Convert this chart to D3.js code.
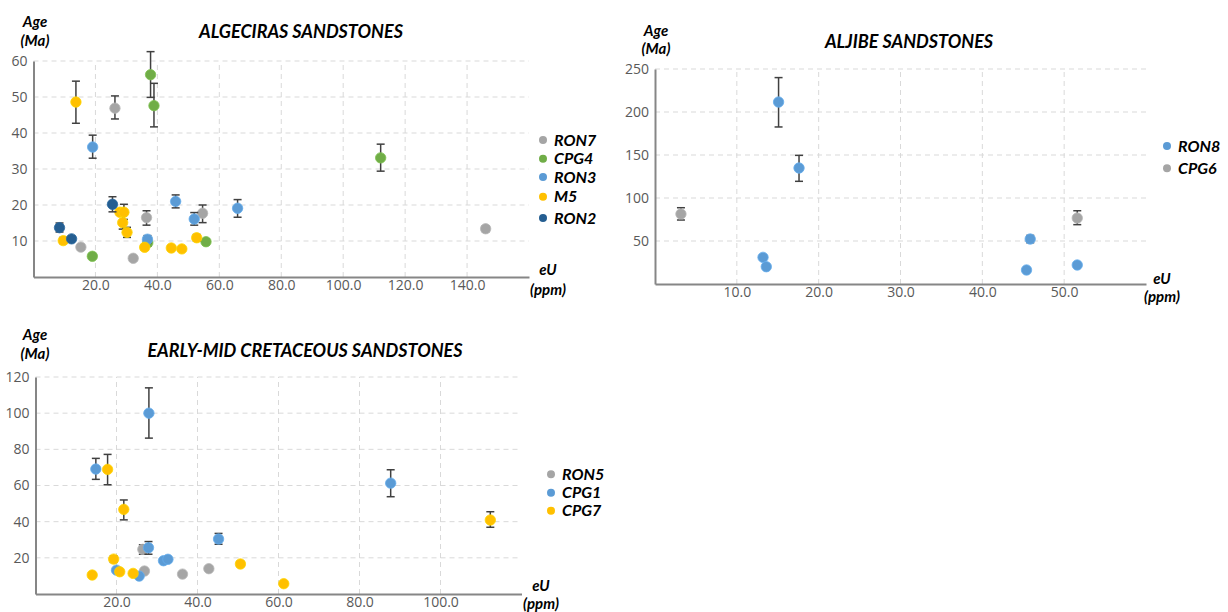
<!DOCTYPE html>
<html><head><meta charset="utf-8">
<script src="https://cdn.jsdelivr.net/npm/d3@7"></script>
<style>
html,body{margin:0;padding:0;background:#fff;}
svg text{font-family:"Open Sans",sans-serif;}
.lbl{font-family:Lato,"Open Sans",sans-serif;font-weight:700;font-style:italic;fill:#000;}
</style></head>
<body><svg id="c" width="1228" height="612"></svg>
<script>
// ---------- DATA : [eU (ppm), age (Ma), error low, error high] ----------
// Algeciras sandstones
const RON7 = [[26.3,46.9,43.9,50.3],[15.3,8.3,7.6,9.0],[32.2,5.2,4.5,5.9],[36.5,16.5,14.4,18.4],[54.6,17.7,15.1,20.0],[146,13.4,12.6,14.2]];
const CPG4 = [[19.0,5.75,5.2,6.3],[37.8,56.2,49.9,62.6],[38.9,47.6,41.7,53.8],[36.9,9.5,8.6,10.4],[55.7,9.8,9.0,10.6],[112.1,33.1,29.4,36.9]];
const RON3 = [[19.1,36.1,33.0,39.4],[45.9,21.0,19.2,22.8],[51.9,16.1,14.4,17.9],[65.9,19.1,16.6,21.5],[36.8,10.5,9.5,11.5]];
const M5   = [[13.7,48.6,42.7,54.4],[9.6,10.1,9.3,11.0],[27.9,18.0,17.2,18.8],[29.2,18.0,16.0,20.2],[28.8,15.1,13.3,16.9],[30.2,12.4,11.0,13.8],[35.9,8.25,7.5,9.0],[44.5,8.06,7.4,8.7],[47.9,7.8,7.2,8.4],[52.7,10.9,10.0,11.8]];
const RON2 = [[8.4,13.7,12.5,15.0],[12.3,10.6,10.0,11.3],[25.5,20.2,18.1,22.3]];
// Aljibe sandstones
const RON8 = [[15.1,211.6,182.6,240],[17.6,134.9,119.4,149.6],[13.2,31.0,null,null],[13.6,20.1,null,null],[45.85,52.3,48,56.5],[45.4,16.3,null,null],[51.6,22.1,null,null]];
const CPG6 = [[3.17,81.4,74.4,88.7],[51.6,76.7,69,85.2]];
// Early-mid Cretaceous sandstones
const RON5 = [[26.5,24.7,22,27.2],[26.9,12.7,null,null],[36.3,11.0,null,null],[42.8,14.0,null,null]];
const CPG1 = [[14.9,69.1,63.4,75],[28.0,100,86.2,114],[27.9,25.6,22,29],[45.2,30.4,27.5,33.5],[31.6,18.4,null,null],[32.7,19.2,17.8,20.5],[25.6,9.9,null,null],[20.0,13.2,null,null],[87.7,61.3,53.8,68.7]];
const CPG7 = [[17.8,68.9,60.4,77.2],[21.8,46.8,41,52],[19.3,19.3,17.5,21],[14.0,10.5,null,null],[20.8,12.3,null,null],[24.1,11.4,null,null],[50.6,16.6,15.2,18],[61.3,5.7,null,null],[112.3,40.9,36.9,45.5]];

const titles = ["ALGECIRAS SANDSTONES","ALJIBE SANDSTONES","EARLY-MID CRETACEOUS SANDSTONES"];
const xTicks1 = [20,40,60,80,100,120,140], yTicks1 = [10,20,30,40,50,60];
const xTicks2 = [10,20,30,40,50],          yTicks2 = [50,100,150,200,250];
const xTicks3 = [20,40,60,80,100],         yTicks3 = [20,40,60,80,100,120];

// ---------- STYLE ----------
const COL = {RON7:"#A5A5A5",CPG4:"#70AD47",RON3:"#5B9BD5",M5:"#FFC000",RON2:"#255E91",RON8:"#5B9BD5",CPG6:"#A5A5A5",RON5:"#A5A5A5",CPG1:"#5B9BD5",CPG7:"#FFC000"};

const panels = [
  {title:titles[0], tx:301, ty:38, xd:[0,160], xr:[33.5,529], yd:[0,60], yr:[277,61], xt:xTicks1, yt:yTicks1,
   series:[["RON7",RON7],["CPG4",CPG4],["RON3",RON3],["M5",M5],["RON2",RON2]],
   legX:543, legY:[140,158.7,177,196.7,218], ageX:35, ageY:[21.5,40.5], euX:548, euY:[270,290]},
  {title:titles[1], tx:909, ty:47.5, xd:[0,60], xr:[655,1146], yd:[0,250], yr:[284,69], xt:xTicks2, yt:yTicks2,
   series:[["RON8",RON8],["CPG6",CPG6]],
   legX:1167, legY:[146,168.3], ageX:656, ageY:[30.5,49], euX:1162, euY:[278.5,297]},
  {title:titles[2], tx:305, ty:356.5, xd:[0,120], xr:[35.5,521.5], yd:[0,120], yr:[594,377], xt:xTicks3, yt:yTicks3,
   series:[["RON5",RON5],["CPG1",CPG1],["CPG7",CPG7]],
   legX:551, legY:[474.3,492.7,510.7], ageX:35, ageY:[335,354], euX:541, euY:[586,604]}
];

const svg = d3.select("#c");

panels.forEach(p => {
  const x = d3.scaleLinear().domain(p.xd).range(p.xr);
  const y = d3.scaleLinear().domain(p.yd).range(p.yr);
  const g = svg.append("g");

  // grid
  g.append("g").selectAll("line").data(p.yt).join("line")
    .attr("x1", p.xr[0]).attr("x2", p.xr[1]).attr("y1", d=>y(d)).attr("y2", d=>y(d))
    .attr("stroke","#D9D9D9").attr("stroke-width",1).attr("stroke-dasharray","5,4");
  g.append("g").selectAll("line").data(p.xt).join("line")
    .attr("x1", d=>x(d)).attr("x2", d=>x(d)).attr("y1", p.yr[0]).attr("y2", p.yr[1])
    .attr("stroke","#D9D9D9").attr("stroke-width",1).attr("stroke-dasharray","5,4");

  // axes
  const xa = g.append("g").attr("transform",`translate(0,${p.yr[0]})`)
    .call(d3.axisBottom(x).tickValues(p.xt).tickFormat(d3.format(".1f")).tickSize(0).tickPadding(3));
  const ya = g.append("g").attr("transform",`translate(${p.xr[0]},0)`)
    .call(d3.axisLeft(y).tickValues(p.yt).tickFormat(d3.format("d")).tickSize(0).tickPadding(6));
  [xa,ya].forEach(a=>{
    a.select(".domain").attr("stroke","#868686").attr("stroke-width",2);
    a.selectAll("text").attr("fill","#595959").style("font-size","14px").style("font-family","'Open Sans',sans-serif");
  });

  // series
  p.series.forEach(([name,data]) => {
    const sg = g.append("g");
    const eb = data.filter(d=>d[2]!=null);
    sg.selectAll("line.v").data(eb).join("line").attr("class","v")
      .attr("x1",d=>x(d[0])).attr("x2",d=>x(d[0])).attr("y1",d=>y(d[2])).attr("y2",d=>y(d[3]))
      .attr("stroke","#404040").attr("stroke-width",1.5);
    ["2","3"].forEach(k=>{
      sg.selectAll("line.c"+k).data(eb).join("line").attr("class","c"+k)
        .attr("x1",d=>x(d[0])-4).attr("x2",d=>x(d[0])+4).attr("y1",d=>y(d[+k])).attr("y2",d=>y(d[+k]))
        .attr("stroke","#404040").attr("stroke-width",1.5);
    });
    sg.selectAll("circle").data(data).join("circle")
      .attr("cx",d=>x(d[0])).attr("cy",d=>y(d[1])).attr("r",5.2)
      .attr("fill",COL[name]).attr("stroke",d3.color(COL[name]).brighter(0.3)).attr("stroke-width",0.8);
  });

  // legend
  const lg = g.append("g");
  p.series.forEach(([name],i)=>{
    lg.append("circle").attr("cx",p.legX).attr("cy",p.legY[i]).attr("r",4).attr("fill",COL[name]);
    lg.append("text").attr("class","lbl").attr("x",p.legX+11).attr("y",p.legY[i]).attr("dy","0.35em")
      .style("font-size","16px").text(name);
  });

  // titles and axis labels
  g.append("text").attr("class","lbl").attr("x",p.tx).attr("y",p.ty).attr("text-anchor","middle")
    .style("font-size","18px").text(p.title);
  ["Age","(Ma)"].forEach((t,i)=> g.append("text").attr("class","lbl").attr("x",p.ageX).attr("y",p.ageY[i])
    .attr("dy","0.35em").attr("text-anchor","middle").style("font-size","15px").text(t));
  ["eU","(ppm)"].forEach((t,i)=> g.append("text").attr("class","lbl").attr("x",p.euX).attr("y",p.euY[i])
    .attr("dy","0.35em").attr("text-anchor","middle").style("font-size","15px").text(t));
});
</script></body></html>
